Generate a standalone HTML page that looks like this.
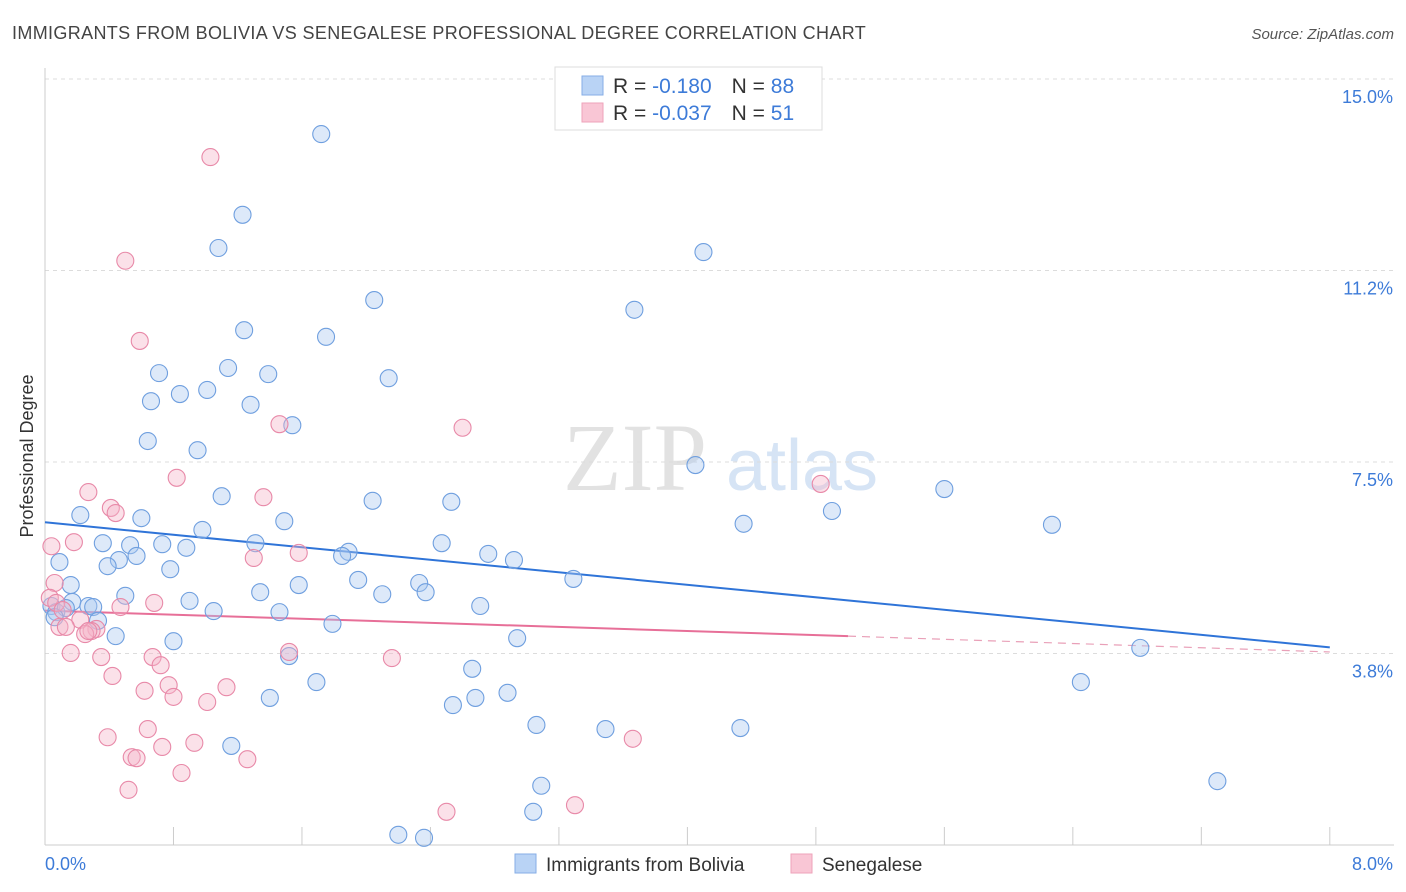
<!DOCTYPE html>
<html><head><meta charset="utf-8"><style>
body{margin:0;background:#fff;font-family:"Liberation Sans",sans-serif}
svg{display:block}
</style></head><body>
<svg id="chart" width="1406" height="892" xmlns="http://www.w3.org/2000/svg">
<text x="12" y="39" font-size="18" letter-spacing="0.35" fill="#444">IMMIGRANTS FROM BOLIVIA VS SENEGALESE PROFESSIONAL DEGREE CORRELATION CHART</text>
<text x="1394" y="39" font-size="15" fill="#555" font-style="italic" text-anchor="end">Source: ZipAtlas.com</text>
<text x="0" y="0" transform="translate(33,456) rotate(-90)" font-size="18" fill="#333" text-anchor="middle">Professional Degree</text>
<g>
<text x="635" y="490" font-size="96" fill="#e2e2e2" font-family="Liberation Serif,serif" text-anchor="middle">ZIP</text>
<text x="802" y="490" font-size="72" fill="#d6e4f5" text-anchor="middle">atlas</text>
</g>
<g id="grid"></g><g id="axes"></g><g id="lines"></g><g id="pts"></g>
<g>
<rect x="555" y="67" width="267" height="63" fill="#fff" stroke="#ddd"/>
<rect x="582" y="76" width="21" height="19" fill="#b9d3f5" stroke="#86aee6"/>
<rect x="582" y="103" width="21" height="19" fill="#f9c6d5" stroke="#eea3ba"/>
<text x="613" y="93" font-size="21" fill="#333">R = <tspan fill="#3d7bd8"> -0.180</tspan><tspan dx="20">N = </tspan><tspan fill="#3d7bd8">88</tspan></text>
<text x="613" y="120" font-size="21" fill="#333">R = <tspan fill="#3d7bd8">-0.037</tspan><tspan dx="20">N = </tspan><tspan fill="#3d7bd8"> 51</tspan></text>
</g>
<g>
<rect x="515" y="854" width="21" height="19" fill="#b9d3f5" stroke="#86aee6"/>
<text x="546" y="871" font-size="19" fill="#333">Immigrants from Bolivia</text>
<rect x="791" y="854" width="21" height="19" fill="#f9c6d5" stroke="#eea3ba"/>
<text x="822" y="871" font-size="19" fill="#333">Senegalese</text>
</g>
</svg>
<script>
const blueX=[1.72,1.23,1.08,4.10,2.05,3.67,1.24,1.75,0.71,1.14,1.39,2.14,0.84,1.01,0.66,1.28,1.54,0.64,0.95,4.05,5.60,1.10,2.04,2.53,0.60,0.22,0.98,1.49,4.35,4.90,6.27,0.36,0.53,0.73,0.88,1.31,2.47,1.89,1.85,2.76,2.92,0.09,0.46,0.57,0.39,0.78,0.16,1.95,1.58,3.29,2.33,1.34,2.10,2.37,0.50,0.90,0.17,0.27,0.30,1.05,1.46,2.71,0.04,0.07,0.13,0.06,0.33,1.79,0.44,0.80,2.94,1.52,6.82,2.66,1.69,6.45,1.40,2.68,2.88,2.54,3.06,3.49,4.33,1.16,3.09,7.30,3.04,2.20,2.36];
const blueY=[13.92,12.34,11.69,11.61,10.67,10.48,10.08,9.95,9.24,9.34,9.22,9.14,8.83,8.91,8.69,8.62,8.22,7.91,7.73,7.44,6.97,6.83,6.74,6.72,6.40,6.46,6.17,6.34,6.29,6.54,6.27,5.91,5.87,5.89,5.82,5.91,5.91,5.74,5.66,5.70,5.58,5.54,5.58,5.66,5.46,5.40,5.09,5.19,5.09,5.21,5.13,4.95,4.91,4.95,4.88,4.78,4.76,4.68,4.66,4.58,4.56,4.68,4.68,4.56,4.64,4.46,4.39,4.33,4.09,3.99,4.05,3.70,3.86,3.45,3.19,3.19,2.88,2.88,2.98,2.74,2.35,2.27,2.29,1.94,1.16,1.25,0.65,0.20,0.14];
const pinkX=[1.03,0.50,0.59,1.46,2.60,0.82,0.27,0.41,0.44,1.36,4.83,0.04,0.18,1.58,1.30,0.06,0.03,0.07,0.11,0.47,0.68,0.22,0.09,0.13,0.32,0.29,0.25,0.27,0.16,0.35,0.67,1.52,2.16,0.72,0.42,0.77,1.13,0.62,0.80,1.01,0.64,0.39,0.73,0.93,3.66,0.54,0.57,1.26,0.85,0.52,2.50,3.30];
const pinkY=[13.47,11.44,9.87,8.24,8.17,7.19,6.91,6.60,6.50,6.81,7.07,5.85,5.93,5.72,5.62,5.13,4.84,4.74,4.60,4.66,4.74,4.41,4.27,4.27,4.23,4.19,4.13,4.19,3.76,3.68,3.68,3.78,3.66,3.52,3.31,3.13,3.09,3.02,2.90,2.80,2.27,2.11,1.92,2.00,2.08,1.72,1.70,1.68,1.41,1.08,0.65,0.78];
const blueTrend=[6.32,3.87];
const pinkTrend=[4.59,4.09,3.78];
const pinkSolidEnd=5.0;
const yTicks=[15.0,11.2,7.5,3.8];
const yTickVals=[15.0,11.25,7.5,3.75];
const xTicks=[0,0.8,1.6,2.4,3.2,4.0,4.8,5.6,6.4,7.2,8.0];
const xLabels=["0.0%","8.0%"];

const NS="http://www.w3.org/2000/svg";
const X=v=>45+v*160.6, Y=v=>845-v*51.07;
function mk(tag,attrs,parent){const e=document.createElementNS(NS,tag);for(const k in attrs)e.setAttribute(k,attrs[k]);document.getElementById(parent).appendChild(e);return e;}
yTickVals.forEach((v,i)=>{
  const l=mk('line',{x1:45,x2:1394,y1:Y(v),y2:Y(v),stroke:'#dcdcdc','stroke-dasharray':'4,4'},'grid');
  
  
  const t=mk('text',{x:1393,y:Y(v)+24,'font-size':18,fill:'#3d7bd8','text-anchor':'end'},'grid');
  t.textContent=yTicks[i].toFixed(1)+'%';
  
  
});
let a=mk('line',{x1:45,x2:45,y1:68,y2:845,stroke:'#ccc'},'axes');


a=mk('line',{x1:45,x2:1394,y1:845,y2:845,stroke:'#ccc'},'axes');


xTicks.forEach(v=>{const t=mk('line',{x1:X(v),x2:X(v),y1:827,y2:845,stroke:'#ccc'},'axes');
  
  });
let t1=mk('text',{x:45,y:870,'font-size':18,fill:'#3d7bd8'},'axes');t1.textContent=xLabels[0];


let t2=mk('text',{x:1393,y:870,'font-size':18,fill:'#3d7bd8','text-anchor':'end'},'axes');t2.textContent=xLabels[1];


function pts(xs,ys,fill,stroke,name){xs.forEach((x,i)=>{const c=mk('circle',{cx:X(x),cy:Y(ys[i]),r:8.5,fill:fill,'fill-opacity':0.4,stroke:stroke,'stroke-width':1.1},'pts');
  
  });}
pts(blueX,blueY,'#a9c8f0','#6f9fdf','bolivia-point');
pts(pinkX,pinkY,'#f6b5c9','#e889a8','senegalese-point');
let l1=mk('line',{x1:X(0),y1:Y(blueTrend[0]),x2:X(8),y2:Y(blueTrend[1]),stroke:'#2f74d8','stroke-width':2},'lines');


let l2=mk('line',{x1:X(0),y1:Y(pinkTrend[0]),x2:X(pinkSolidEnd),y2:Y(pinkTrend[1]),stroke:'#e76f98','stroke-width':2},'lines');


let l3=mk('line',{x1:X(pinkSolidEnd),y1:Y(pinkTrend[1]),x2:X(8),y2:Y(pinkTrend[2]),stroke:'#e9a0b8','stroke-width':1.2,'stroke-dasharray':'8,6'},'lines');


</script>
</body></html>
